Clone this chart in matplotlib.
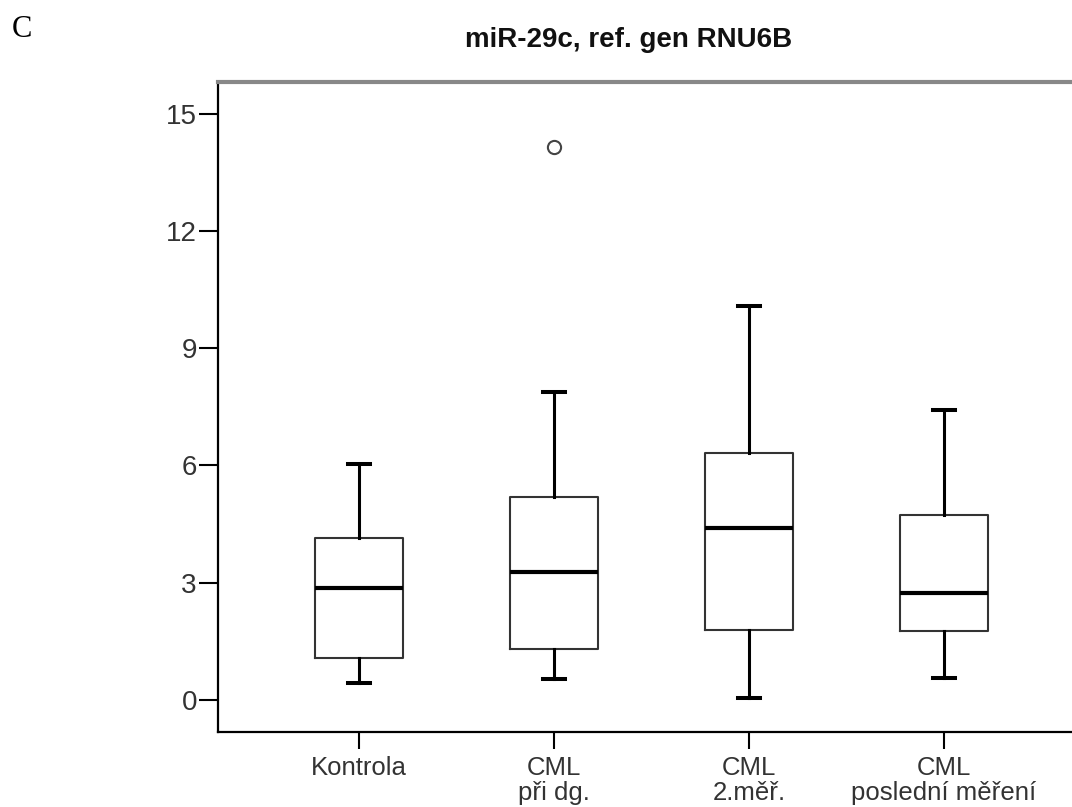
import matplotlib
matplotlib.use("Agg")
from matplotlib import pyplot as plt

# box plot summary
groups = ["Kontrola", "CML\npři dg.", "CML\n2.měř.", "CML\nposlední měření"]
whislo = [0.44, 0.54, 0.04, 0.56]
q1 = [1.07, 1.30, 1.78, 1.76]
med = [2.86, 3.27, 4.41, 2.73]
q3 = [4.15, 5.18, 6.33, 4.73]
whishi = [6.04, 7.89, 10.07, 7.42]
fliers = [[], [14.15], [], []]
yticks = [0, 3, 6, 9, 12, 15]

stats = []
for i in range(len(groups)):
    stats.append({"whislo": whislo[i], "q1": q1[i], "med": med[i], "q3": q3[i],
                  "whishi": whishi[i], "fliers": fliers[i]})

fig = plt.figure(figsize=(10.72, 8.07), dpi=100)
ax = fig.add_axes([218 / 1072, 75 / 807, 866 / 1072, 650 / 807])

ax.bxp(stats, positions=range(1, len(groups) + 1), widths=0.45,
       boxprops=dict(color="#333333", linewidth=1.5),
       medianprops=dict(color="black", linewidth=3.0),
       whiskerprops=dict(color="black", linewidth=2.2),
       capprops=dict(color="black", linewidth=2.9),
       capwidths=0.115,
       flierprops=dict(marker="o", markersize=9.5, markerfacecolor="none",
                       markeredgecolor="#444444", markeredgewidth=1.5))

ax.set_xlim(0.277, 4.718)
ax.set_ylim(-0.82, 15.81)
ax.set_yticks(yticks)
ax.set_xticks(range(1, len(groups) + 1))
ax.set_xticklabels(groups, fontsize=18.5, family="Liberation Sans", color="#333333",
                   linespacing=1.08)
ax.set_yticklabels([str(v) for v in yticks], fontsize=20, family="Liberation Sans",
                   color="#333333")
ax.tick_params(axis="y", length=13.7, width=1.5, pad=1.5)
ax.tick_params(axis="x", length=12.2, width=1.5, pad=5)

ax.spines["top"].set_color("#888888")
ax.spines["top"].set_linewidth(3)
ax.spines["left"].set_linewidth(1.6)
ax.spines["bottom"].set_linewidth(1.6)
ax.spines["right"].set_visible(False)

fig.text(629 / 1072, 1 - 47 / 807, "miR-29c, ref. gen RNU6B", ha="center", va="baseline",
         fontsize=20, fontweight="bold", family="Liberation Sans", color="#111111")
fig.text(12 / 1072, 1 - 37 / 807, "C", ha="left", va="baseline", fontsize=22,
         family="Liberation Serif")

fig.savefig("out.png", dpi=100)
